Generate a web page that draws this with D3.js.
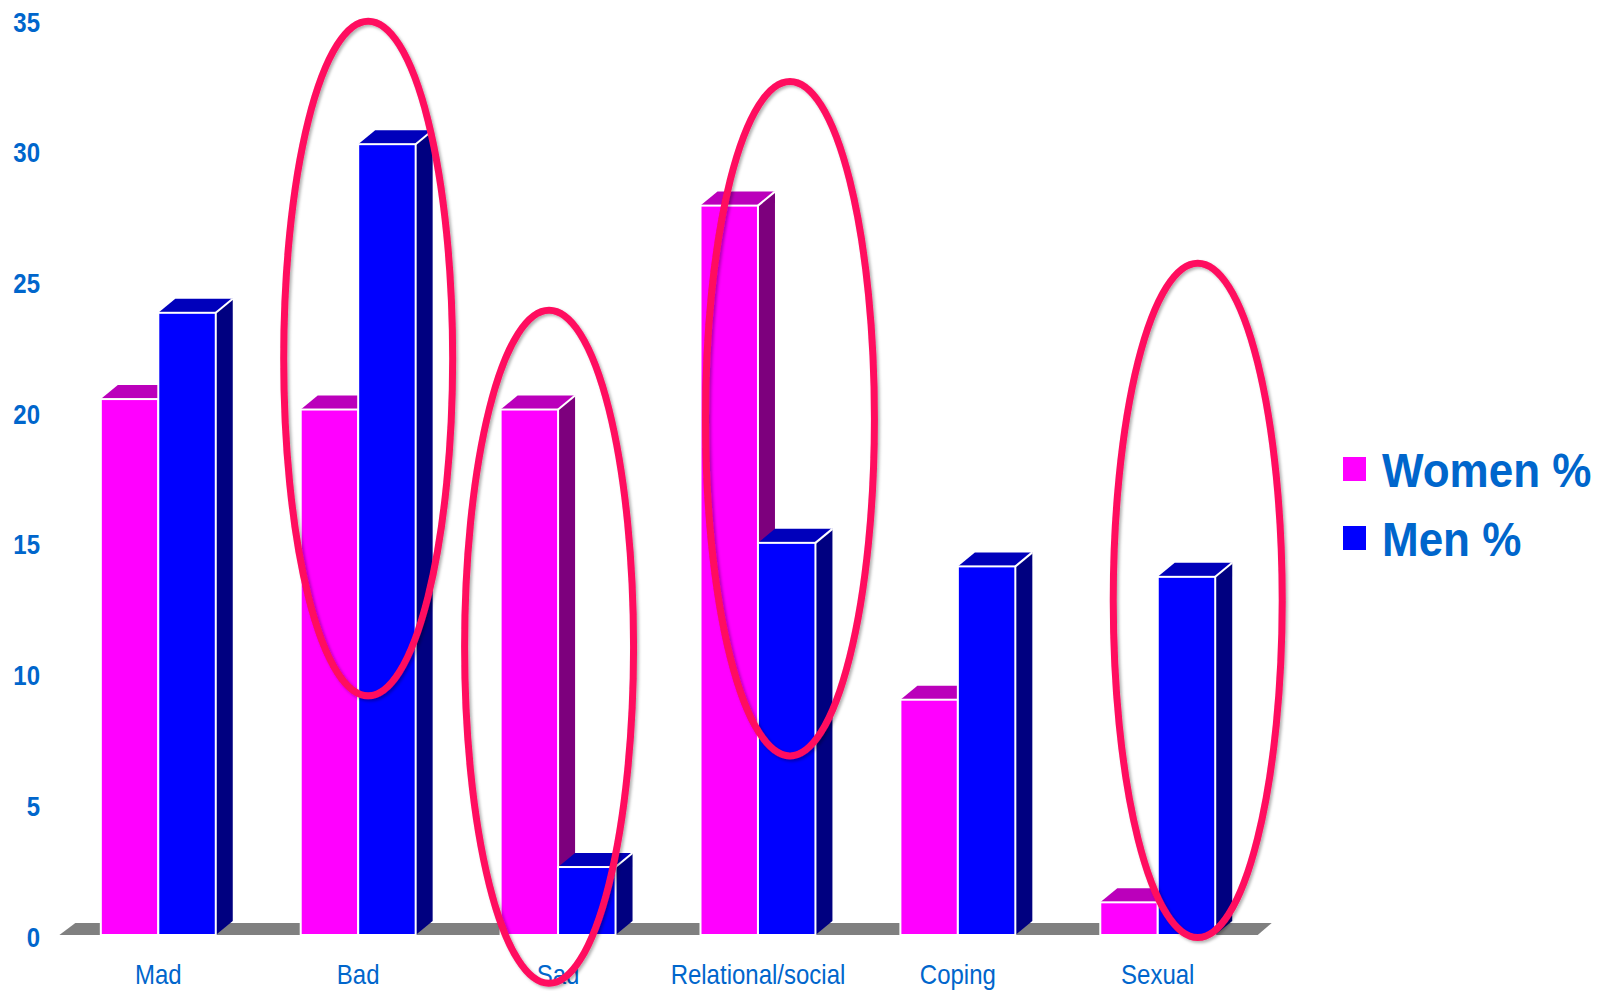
<!DOCTYPE html>
<html>
<head>
<meta charset="utf-8">
<script src="https://cdn.jsdelivr.net/npm/d3@7"></script>
<style>
  html, body { margin: 0; padding: 0; background: #ffffff; }
  svg { display: block; }
</style>
</head>
<body>
<div id="barchart"></div>
<script>
// Data
var categories   = [ 'Mad', 'Bad', 'Sad', 'Relational/social', 'Coping', 'Sexual' ];
var series_names = [ 'Women %', 'Men %' ];
var women_values = [ 20.5, 20.1, 20.1, 27.9, 9.0, 1.25 ];
var men_values   = [ 23.8, 30.25, 2.6, 15.0, 14.1, 13.7 ];
var y_ticks      = [ 0, 5, 10, 15, 20, 25, 30, 35 ];

// Highlighted categories: value range covered by each ring and shift in band steps
var ring_categories = [ 'Bad', 'Sad', 'Relational/social', 'Sexual' ];
var ring_low        = [ 9.15, -1.85, 6.85, -0.1 ];
var ring_high       = [ 34.95, 23.9, 32.65, 25.7 ];
var ring_shift      = [ 0.05, -0.045, 0.16, 0.2 ];

// The SVG Element
var chart_width  = 1606;
var chart_height = 991;
var depth_x      = 17;
var depth_y      = -14;
var text_stretch = 1.12;
var label_color  = '#0066cc';

var svg = d3.select( '#barchart' )
    .append( 'svg' )
    .attr( 'width', chart_width )
    .attr( 'height', chart_height );

var defs = svg.append( 'defs' );
defs.append( 'filter' )
    .attr( 'id', 'ring-shadow' )
    .attr( 'x', '-20%' ).attr( 'y', '-20%' )
    .attr( 'width', '140%' ).attr( 'height', '140%' )
    .append( 'feDropShadow' )
    .attr( 'dx', 2 )
    .attr( 'dy', 2 )
    .attr( 'stdDeviation', 1.5 )
    .attr( 'flood-color', '#000' )
    .attr( 'flood-opacity', 0.3 );

// Creating scales
var scale_x = d3.scaleBand()
    .domain( categories )
    .range( [ 58.35, 1257.7 ] )
    .paddingInner( 0.425 )
    .paddingOuter( 0.2125 );

var scale_sub = d3.scaleBand()
    .domain( series_names )
    .range( [ 0, scale_x.bandwidth() ] );

var scale_y = d3.scaleLinear()
    .domain( [ 0, 35 ] )
    .range( [ 935, 20 ] );

var colors = {
    'Women %': { front: '#ff00ff', top: '#bb00bb', side: '#7d007d' },
    'Men %':   { front: '#0000ff', top: '#0000bb', side: '#000080' }
};

// Floor
var base = scale_y( 0 );
var floor_x0 = scale_x.range()[0] + 1;
var floor_x1 = scale_x.range()[1];
svg.append( 'path' )
    .attr( 'd', 'M' + floor_x0 + ',' + base +
        'L' + ( floor_x0 + 16 ) + ',' + ( base - 12 ) +
        'L' + ( floor_x1 + 14 ) + ',' + ( base - 12 ) +
        'L' + floor_x1 + ',' + base + 'Z' )
    .attr( 'fill', '#808080' );

// Y axis labels
svg.append( 'g' )
    .attr( 'class', 'y-axis' )
    .selectAll( 'text' )
    .data( y_ticks )
    .enter()
    .append( 'text' )
    .attr( 'transform', function( d ) {
        return 'translate(40,' + ( scale_y( d ) + 11.6 ) + ') scale(1,' + text_stretch + ')';
    })
    .attr( 'text-anchor', 'end' )
    .attr( 'font-family', 'Liberation Sans, Arial, sans-serif' )
    .attr( 'font-weight', 'bold' )
    .attr( 'font-size', 24 )
    .attr( 'fill', label_color )
    .text( function( d ) { return d; } );

// Creating bars
var bar_data = [];
categories.forEach( function( c, i ) {
    bar_data.push( { category: c, series: 'Women %', value: women_values[i] } );
    bar_data.push( { category: c, series: 'Men %', value: men_values[i] } );
});

var bars = svg.append( 'g' )
    .attr( 'class', 'bars' )
    .selectAll( 'g' )
    .data( bar_data )
    .enter()
    .append( 'g' );

bars.each( function( d ) {
    var g  = d3.select( this );
    var x0 = scale_x( d.category ) + scale_sub( d.series );
    var w  = scale_sub.bandwidth();
    var yt = scale_y( d.value );
    var c  = colors[ d.series ];

    g.append( 'path' )
        .attr( 'd', 'M' + ( x0 + w ) + ',' + yt +
            'L' + ( x0 + w + depth_x ) + ',' + ( yt + depth_y ) +
            'L' + ( x0 + w + depth_x ) + ',' + ( base + depth_y ) +
            'L' + ( x0 + w ) + ',' + base + 'Z' )
        .attr( 'fill', c.side );

    g.append( 'path' )
        .attr( 'd', 'M' + x0 + ',' + yt +
            'L' + ( x0 + depth_x ) + ',' + ( yt + depth_y ) +
            'L' + ( x0 + w + depth_x ) + ',' + ( yt + depth_y ) +
            'L' + ( x0 + w ) + ',' + yt + 'Z' )
        .attr( 'fill', c.top );

    g.append( 'line' )
        .attr( 'x1', x0 + w ).attr( 'y1', yt )
        .attr( 'x2', x0 + w + depth_x ).attr( 'y2', yt + depth_y )
        .attr( 'stroke', '#ffffff' )
        .attr( 'stroke-width', 2 );

    g.append( 'rect' )
        .attr( 'x', x0 )
        .attr( 'y', yt )
        .attr( 'width', w )
        .attr( 'height', base - yt )
        .attr( 'fill', c.front )
        .attr( 'stroke', '#ffffff' )
        .attr( 'stroke-width', 2 );
});

// X axis labels
svg.append( 'g' )
    .attr( 'class', 'x-axis' )
    .selectAll( 'text' )
    .data( categories )
    .enter()
    .append( 'text' )
    .attr( 'transform', function( d ) {
        return 'translate(' + ( scale_x( d ) + scale_x.bandwidth() / 2 ) + ',984) scale(1,' + text_stretch + ')';
    })
    .attr( 'text-anchor', 'middle' )
    .attr( 'font-family', 'Liberation Sans, Arial, sans-serif' )
    .attr( 'font-size', 24 )
    .attr( 'fill', label_color )
    .text( function( d ) { return d; } );

// Rings around the highlighted categories
svg.append( 'g' )
    .attr( 'class', 'rings' )
    .attr( 'filter', 'url(#ring-shadow)' )
    .selectAll( 'ellipse' )
    .data( ring_categories )
    .enter()
    .append( 'ellipse' )
    .attr( 'cx', function( d, i ) {
        return scale_x( d ) + scale_x.bandwidth() / 2 + ring_shift[i] * scale_x.step();
    })
    .attr( 'cy', function( d, i ) {
        return ( scale_y( ring_low[i] ) + scale_y( ring_high[i] ) ) / 2;
    })
    .attr( 'rx', scale_x.bandwidth() * 0.735 )
    .attr( 'ry', function( d, i ) {
        return ( scale_y( ring_low[i] ) - scale_y( ring_high[i] ) ) / 2;
    })
    .attr( 'fill', 'none' )
    .attr( 'stroke', '#ff0a5e' )
    .attr( 'stroke-width', 7 );

// Legend
var legend = svg.append( 'g' )
    .attr( 'class', 'legend' )
    .selectAll( 'g' )
    .data( series_names )
    .enter()
    .append( 'g' )
    .attr( 'transform', function( d, i ) {
        return 'translate(1343,' + ( 457 + i * 69 ) + ')';
    });

legend.append( 'rect' )
    .attr( 'width', 23 )
    .attr( 'height', 24 )
    .attr( 'fill', function( d ) { return colors[ d ].front; } );

legend.append( 'text' )
    .attr( 'transform', 'translate(39,30) scale(1,1.08)' )
    .attr( 'font-family', 'Liberation Sans, Arial, sans-serif' )
    .attr( 'font-weight', 'bold' )
    .attr( 'font-size', 44 )
    .attr( 'fill', label_color )
    .text( function( d ) { return d; } );
</script>
</body>
</html>
